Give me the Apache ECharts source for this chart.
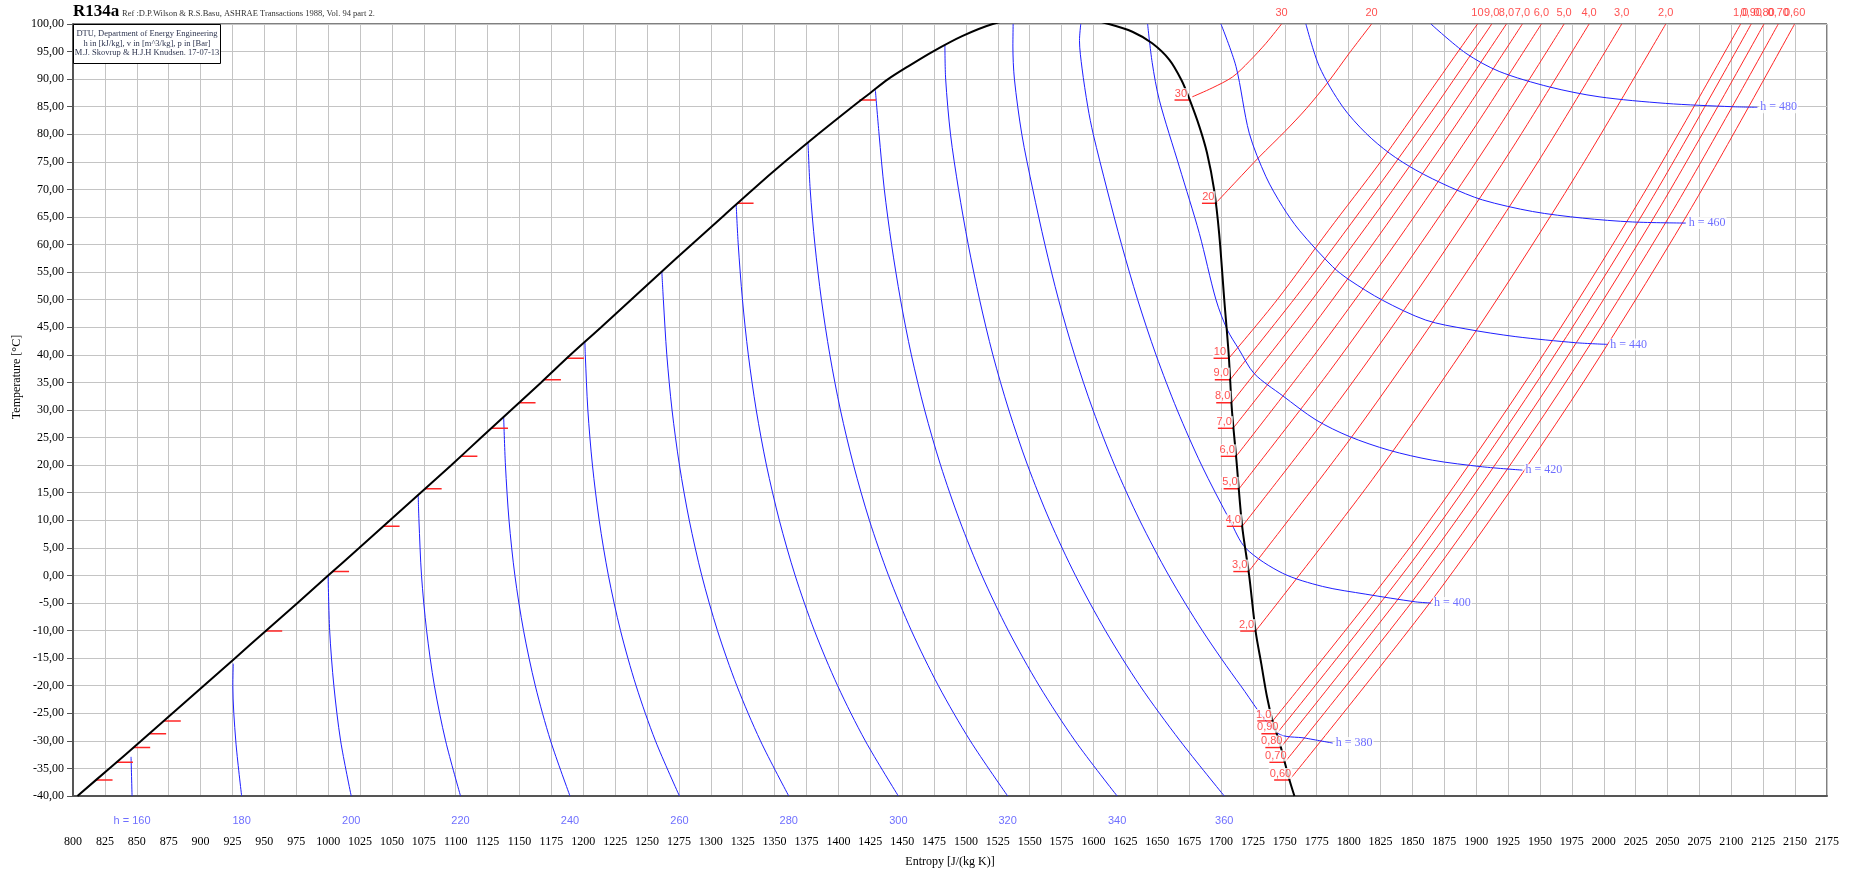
<!DOCTYPE html>
<html>
<head>
<meta charset="utf-8">
<title>R134a T-s</title>
<script src="https://cdn.jsdelivr.net/npm/echarts@6/dist/echarts.min.js"></script>
<style>
  html, body { margin: 0; padding: 0; background: #fff; }
  #chart { width: 1854px; height: 875px; }
</style>
</head>
<body>
<div id="chart"></div>
<script>
// saturation dome, [s J/(kg K), T °C]; points above 100 are clipped by the grid
const satLiquid = [[803.5,-40],[828.5,-35],[853.5,-30],[878,-25],[902.5,-20],[927,-15],[951.5,-10],[976,-5],[1000,0],[1024.5,5],[1048.5,10],[1072.5,15],[1096.5,20],[1120,25],[1143.5,30],[1167,35],[1190,40],[1214,45],[1237.5,50],[1261,55],[1285,60],[1309,65],[1333,70],[1358,75],[1384,80],[1411,85],[1425,87.5],[1439,90],[1456,92.5],[1474,95],[1497,97.8],[1521,100],[1545,101.2],[1566,101.6]];
const satVapor = [[1590,101.2],[1612,100],[1630.5,98.6],[1646,96.5],[1659.5,93.5],[1669,89.8],[1675,86.5],[1683,81.4],[1689,76.6],[1694.5,70],[1698.5,62],[1702.5,50],[1706,40],[1708.5,30],[1712,21],[1716.5,9],[1722,0],[1727,-10],[1731.5,-16],[1736,-22],[1740.5,-26.5],[1745.5,-30],[1749.5,-33.5],[1753.5,-37],[1757.5,-40]];

// isobars (bar)
const pressureLabels = ['0,60','0,70','0,80','0,90','1,0','2,0','3,0','4,0','5,0','6,0','7,0','8,0','9,0','10','20','30'];
const pressureTsat = [-37.1,-33.9,-31.2,-28.7,-26.4,-10.1,0.7,8.9,15.7,21.6,26.7,31.3,35.5,39.4,67.5,86.2];
const pressureSLiq = [818,834,847.5,860,871.5,951,1003.4,1043,1076,1104,1128,1149.6,1169.5,1187.5,1320.5,1416.5];
const pressureSVap = [1753.6,1749.9,1746.7,1743.6,1740.4,1727,1721.6,1716.5,1714,1711.8,1709.5,1708.2,1707.1,1706.1,1697,1675.5];
const isobarPoints = [
  [[1753.6,-37.1],[1870.7,-2.8],[1974,31.5],[2066.2,65.7],[2149.6,100]],
  [[1749.9,-33.9],[1864,-0.4],[1964.7,33.1],[2055,66.5],[2136.8,100]],
  [[1746.7,-31.2],[1858.1,1.6],[1956.6,34.4],[2045.2,67.2],[2125.6,100]],
  [[1743.6,-28.7],[1852.9,3.5],[1949.4,35.7],[2036.4,67.8],[2115.6,100]],
  [[1740.4,-26.4],[1848.4,5.2],[1943.4,36.8],[2029.1,68.4],[2107.3,100]],
  [[1727,-10.1],[1818.6,17.4],[1901.8,45],[1978.1,72.5],[2048.6,100]],
  [[1721.6,0.7],[1803.6,25.5],[1879.1,50.4],[1949,75.2],[2014.1,100]],
  [[1716.5,8.9],[1792.5,31.7],[1862.4,54.5],[1927.5,77.2],[1988.5,100]],
  [[1714,15.7],[1784.3,36.8],[1849.7,57.9],[1911.1,78.9],[1968.9,100]],
  [[1711.8,21.6],[1777.1,41.2],[1838.5,60.8],[1896.3,80.4],[1951.1,100]],
  [[1709.5,26.7],[1771.2,45],[1829.2,63.4],[1884.1,81.7],[1936.2,100]],
  [[1708.2,31.3],[1766.4,48.5],[1821.5,65.7],[1873.8,82.8],[1923.7,100]],
  [[1707.1,35.5],[1762.3,51.6],[1814.6,67.8],[1864.5,83.9],[1912.2,100]],
  [[1706.5,39.5],[1744,50],[1784,62.5],[1825,75],[1863,87.5],[1901,100]],
  [[1697,67.8],[1712,71.5],[1730,75.9],[1750,80.5],[1767,84.7],[1784,89.5],[1800.5,94.7],[1818,100]],
  [[1677.5,86.8],[1693,88.4],[1709,90.4],[1722,93.2],[1735.2,96.5],[1747.4,100]]
];

// isenthalps (kJ/kg)
const enthalpyValues = [160,180,200,220,240,260,280,300,320,340,360,380,400,420,440,460,480];
const enthalpyPoints = [
  [[845.5,-32.9],[846.3,-40]],
  [[925.6,-16],[925.3,-20],[927.6,-30],[932.2,-40]],
  [[1000,0],[1001.2,-10],[1004.5,-20],[1009.8,-30],[1018.1,-40]],
  [[1070.6,14.6],[1071.2,10],[1073.2,0],[1077.2,-10],[1083.3,-20],[1092.1,-30],[1103.8,-40]],
  [[1137.6,28.8],[1139,20],[1141.8,10],[1146.4,0],[1153.2,-10],[1162.4,-20],[1174.4,-30],[1189.6,-40]],
  [[1201.3,42.3],[1201.6,40],[1203.6,30],[1207.2,20],[1212.5,10],[1219.7,0],[1229.2,-10],[1241.4,-20],[1256.6,-30],[1275.4,-40]],
  [[1261.6,55.1],[1262.8,50],[1265.5,40],[1269.6,30],[1275.4,20],[1283.1,10],[1292.9,0],[1305.2,-10],[1320.4,-20],[1338.9,-30],[1361.1,-40]],
  [[1319.9,67.2],[1321.5,60],[1324.8,50],[1329.4,40],[1335.6,30],[1343.6,20],[1353.7,10],[1366.1,0],[1381.2,-10],[1399.4,-20],[1421.1,-30],[1447,-40]],
  [[1376.2,78.5],[1377.9,70],[1381.6,60],[1386.7,50],[1393.3,40],[1401.6,30],[1411.9,20],[1424.3,10],[1439.3,0],[1457.2,-10],[1478.4,-20],[1503.4,-30],[1532.7,-40]],
  [[1429,88],[1431.9,80],[1436,70],[1441.7,60],[1448.7,50],[1457.2,40],[1467.6,30],[1480.1,20],[1495,10],[1512.5,0],[1533.2,-10],[1557.4,-20],[1585.6,-30],[1618.5,-40]],
  [[1483.5,96.2],[1484.1,90],[1487.9,80],[1494.2,70],[1501.8,60],[1510.7,50],[1521.1,40],[1533.6,30],[1548.3,20],[1565.6,10],[1585.8,0],[1609.3,-10],[1636.4,-20],[1667.9,-30],[1702.5,-40]],
  [[1537,100],[1536.8,96],[1538,90],[1543.8,80],[1552.4,70],[1561.9,60],[1572.6,50],[1585.1,40],[1599.6,30],[1616.5,20],[1636.2,10],[1659,0],[1685.3,-10],[1715.4,-20],[1744.4,-28.6],[1766,-29.5],[1787.5,-30.4]],
  [[1590,100],[1589,97],[1591,92],[1595.5,85],[1599.8,80],[1610.6,70],[1622,60],[1634.6,50],[1649,40],[1665.6,30],[1684.7,20],[1706.9,10],[1719.5,4.9],[1748.2,0.4],[1779.6,-2],[1813.5,-3.4],[1852.7,-4.8],[1864.5,-5]],
  [[1642.4,100],[1646,93],[1651.6,86.2],[1667.3,74.1],[1683,62],[1696,50],[1705,44.5],[1714,41],[1726,36.6],[1748.2,32.6],[1774.4,28.2],[1800.5,25.2],[1831.8,22.7],[1865.7,20.9],[1904.9,19.7],[1936.2,19.1]],
  [[1699.9,100],[1711.7,92.3],[1722.1,80.2],[1735.2,72.3],[1748.2,66.9],[1761.3,62.6],[1787.4,56],[1800.5,53.6],[1826.6,49.9],[1860.5,46.3],[1891.9,44.7],[1931.1,43.3],[1978.1,42.2],[2002.8,41.9]],
  [[1766.5,100],[1777,92.3],[1795.3,85],[1813.5,80.2],[1831.8,76.6],[1852.7,73.5],[1878.8,70.5],[1904.9,68.1],[1944.1,66],[1983.3,64.8],[2022.4,64.1],[2064.3,63.9]],
  [[1864.5,100],[1891.9,94.7],[1918,91.4],[1957.2,88.6],[1996.3,86.8],[2048.6,85.6],[2100.8,85],[2120.4,84.9]]
];

const BLUE = '#1f1fff';
const RED = '#ff2626';
const SERIF = '"Liberation Serif", "Times New Roman", serif';
const SANS = '"Liberation Sans", Arial, sans-serif';

function curve(data, color, width, z) {
  return {
    type: 'line', data, symbol: 'none', smooth: 0.3, silent: true, z: z,
    lineStyle: { color: color, width: width }
  };
}

function labels(items, label) {
  return {
    type: 'scatter', data: items, symbolSize: 0, silent: true, clip: false, z: 10,
    label: Object.assign({ show: true, formatter: '{b}' }, label)
  };
}

const series = [];

// dome
series.push(curve(satLiquid.concat(satVapor), '#000', 2, 5));

// isobars: superheated part + short ticks on both saturation lines
pressureLabels.forEach((name, i) => {
  const t = pressureTsat[i];
  series.push(curve(isobarPoints[i], RED, 1, 3));
  series.push(curve([[pressureSLiq[i], t], [pressureSLiq[i] + 13, t]], RED, 1.5, 4));
  series.push(curve([[pressureSVap[i] - 12, t], [pressureSVap[i], t]], RED, 1.5, 4));
});

// isenthalps
enthalpyPoints.forEach(pts => series.push(curve(pts, BLUE, 1, 3)));

// isobar names at the top edge
series.push(labels(
  isobarPoints.map((pts, i) => ({ name: pressureLabels[i], value: pts[pts.length - 1] })),
  { position: 'top', distance: 6, color: RED, fontFamily: SANS, fontSize: 11 }
));

// isobar names on the vapour line
series.push(labels(
  pressureLabels.map((name, i) => ({ name: name, value: [pressureSVap[i] - 7, pressureTsat[i]] })),
  { position: 'top', distance: 1, color: RED, fontFamily: SANS, fontSize: 11,
    backgroundColor: '#fff', padding: [0, 1, 0, 1] }
));

// enthalpy names: inside the dome at the bottom, outside at the line end
const bottomNames = [];
const endNames = [];
enthalpyValues.forEach((h, i) => {
  const pts = enthalpyPoints[i];
  const last = pts[pts.length - 1];
  if (h <= 360) bottomNames.push({ name: h === 160 ? 'h = 160' : String(h), value: last });
  else endNames.push({ name: 'h = ' + h, value: last });
});
series.push(labels(bottomNames,
  { position: 'bottom', distance: 19, color: '#4a4aff', fontFamily: SANS, fontSize: 11 }));
series.push(labels(endNames,
  { position: 'right', distance: 2, color: '#4a4aff', fontFamily: SERIF, fontSize: 12,
    backgroundColor: '#fff', padding: [0, 1, 0, 1] }));

const chart = echarts.init(document.getElementById('chart'));
chart.setOption({
  animation: false,
  backgroundColor: '#fff',
  grid: {
    left: 73, right: 27, top: 24, bottom: 79,
    show: true, borderColor: '#000', borderWidth: 1,
    containLabel: false, outerBoundsMode: 'none'
  },
  xAxis: {
    type: 'value', min: 800, max: 2175, interval: 25,
    name: 'Entropy [J/(kg K)]', nameLocation: 'middle', nameGap: 60,
    nameTextStyle: { color: '#000', fontFamily: SERIF, fontSize: 12 },
    axisLine: { onZero: false, lineStyle: { color: '#555', width: 2 } },
    axisTick: { show: false },
    axisLabel: {
      margin: 40, color: '#000', fontFamily: SERIF, fontSize: 12, hideOverlap: false,
      formatter: v => String(v)
    },
    splitLine: { show: true, lineStyle: { color: '#c4c4c4', width: 1 } }
  },
  yAxis: {
    type: 'value', min: -40, max: 100, interval: 5,
    axisLine: { show: true, onZero: false, lineStyle: { color: '#555', width: 2 } },
    axisTick: { show: true, length: 6, lineStyle: { color: '#555' } },
    axisLabel: {
      margin: 9, color: '#000', fontFamily: SERIF, fontSize: 12,
      formatter: v => v.toFixed(2).replace('.', ',')
    },
    splitLine: { show: true, lineStyle: { color: '#c4c4c4', width: 1 } }
  },
  graphic: [
    { type: 'text', x: 73, y: 3, style: { text: 'R134a', font: 'bold 17px ' + SERIF, fill: '#000' } },
    { type: 'text', x: 122, y: 9, style: { text: 'Ref :D.P.Wilson & R.S.Basu, ASHRAE Transactions 1988, Vol. 94 part 2.', font: '8.5px ' + SERIF, fill: '#333' } },
    { type: 'rect', z: 100, shape: { x: 73.5, y: 24.5, width: 147, height: 39 },
      style: { fill: '#fff', stroke: '#000', lineWidth: 1 } },
    { type: 'text', z: 101, x: 147, y: 34, style: { text: 'DTU, Department of Energy Engineering', align: 'center', verticalAlign: 'middle', font: '8.5px ' + SERIF, fill: '#2e3550' } },
    { type: 'text', z: 101, x: 147, y: 43.5, style: { text: 'h in [kJ/kg], v in [m^3/kg], p in [Bar]', align: 'center', verticalAlign: 'middle', font: '8.5px ' + SERIF, fill: '#2e3550' } },
    { type: 'text', z: 101, x: 147, y: 53, style: { text: 'M.J. Skovrup & H.J.H Knudsen. 17-07-13', align: 'center', verticalAlign: 'middle', font: '8.5px ' + SERIF, fill: '#2e3550' } },
    { type: 'text', x: 17, y: 377, rotation: Math.PI / 2, style: { text: 'Temperature [°C]', align: 'center', verticalAlign: 'middle', font: '12px ' + SERIF, fill: '#000' } }
  ],
  series: series
});
</script>
</body>
</html>
